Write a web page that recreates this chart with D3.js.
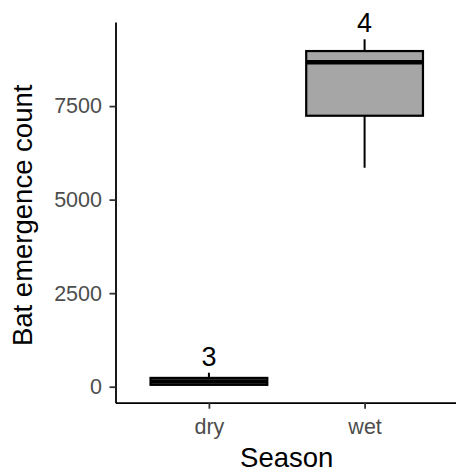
<!DOCTYPE html>
<html>
<head>
<meta charset="utf-8">
<script src="https://cdn.jsdelivr.net/npm/d3@7"></script>
<style>
  body { margin: 0; background: #fff; }
  svg { display: block; font-family: "Liberation Sans", Arial, sans-serif; }
</style>
</head>
<body>
<div id="chart"></div>
<script>
// Données
const seasons = ["dry", "wet"];
const whiskerLow = [35, 5852];
const q1 = [50, 7242];
const medians = [140, 8669];
const q3 = [235, 8971];
const whiskerHigh = [374, 9285];
const counts = [3, 4];
const yTicks = [0, 2500, 5000, 7500];

const W = 456, H = 471;
const panel = { left: 115.5, right: 458, top: 22, bottom: 402.7 };

const svg = d3.select("#chart")
    .append("svg")
    .attr("width", W)
    .attr("height", H);

// Échelle Y avec expansion de 5% comme ggplot
const lo = d3.min(whiskerLow), hi = d3.max(whiskerHigh);
const pad = (hi - lo) * 0.05;
const y = d3.scaleLinear()
    .domain([lo - pad, hi + pad])
    .range([panel.bottom, panel.top]);

// Échelle X discrète
const x = d3.scalePoint()
    .domain(seasons)
    .range([panel.left, panel.right])
    .padding(0.6);

const boxW = x.step() * 0.75;

const boxes = seasons.map((s, i) => ({
    season: s, lo: whiskerLow[i], q1: q1[i], med: medians[i],
    q3: q3[i], hi: whiskerHigh[i], n: counts[i]
}));

const g = svg.append("g");

// Moustaches
g.selectAll("line.whisker-up")
    .data(boxes)
    .join("line")
    .attr("x1", d => x(d.season))
    .attr("x2", d => x(d.season))
    .attr("y1", d => y(d.q3))
    .attr("y2", d => y(d.hi))
    .attr("stroke", "#000")
    .attr("stroke-width", 2);

g.selectAll("line.whisker-down")
    .data(boxes)
    .join("line")
    .attr("x1", d => x(d.season))
    .attr("x2", d => x(d.season))
    .attr("y1", d => y(d.q1))
    .attr("y2", d => y(d.lo))
    .attr("stroke", "#000")
    .attr("stroke-width", 2);

// Boîtes
g.selectAll("rect")
    .data(boxes)
    .join("rect")
    .attr("x", d => x(d.season) - boxW / 2)
    .attr("width", boxW)
    .attr("y", d => y(d.q3))
    .attr("height", d => y(d.q1) - y(d.q3))
    .attr("fill", "#a6a6a6")
    .attr("stroke", "#000")
    .attr("stroke-width", 2.2);

// Médianes
g.selectAll("line.median")
    .data(boxes)
    .join("line")
    .attr("x1", d => x(d.season) - boxW / 2)
    .attr("x2", d => x(d.season) + boxW / 2)
    .attr("y1", d => y(d.med))
    .attr("y2", d => y(d.med))
    .attr("stroke", "#000")
    .attr("stroke-width", 4.5);

// Effectifs au-dessus des moustaches
g.selectAll("text.n")
    .data(boxes)
    .join("text")
    .attr("x", d => x(d.season))
    .attr("y", d => y(d.hi) - 7)
    .attr("text-anchor", "middle")
    .attr("font-size", 27)
    .attr("fill", "#000")
    .text(d => d.n);

// Axes
const yAxis = svg.append("g")
    .attr("transform", `translate(${panel.left},0)`)
    .call(d3.axisLeft(y).tickValues(yTicks).tickFormat(d3.format("d"))
        .tickSize(6).tickPadding(7.5).tickSizeOuter(0));

const xAxis = svg.append("g")
    .attr("transform", `translate(0,${panel.bottom})`)
    .call(d3.axisBottom(x).tickSize(6).tickPadding(10).tickSizeOuter(0));

[yAxis, xAxis].forEach(a => {
    a.select(".domain").attr("stroke", "#000").attr("stroke-width", 1.8);
    a.selectAll(".tick line").attr("stroke", "#333").attr("stroke-width", 1.8);
    a.selectAll(".tick text").attr("fill", "#4d4d4d").attr("font-size", 21.5)
        .style("font-family", "Liberation Sans, Arial, sans-serif");
});

// Titres des axes
svg.append("text")
    .attr("x", (panel.left + panel.right) / 2)
    .attr("y", 466.5)
    .attr("text-anchor", "middle")
    .attr("font-size", 27.5)
    .text("Season");

svg.append("text")
    .attr("transform", `translate(32,${(panel.top + panel.bottom) / 2 + 3}) rotate(-90)`)
    .attr("text-anchor", "middle")
    .attr("font-size", 27.5)
    .text("Bat emergence count");
</script>
</body>
</html>
